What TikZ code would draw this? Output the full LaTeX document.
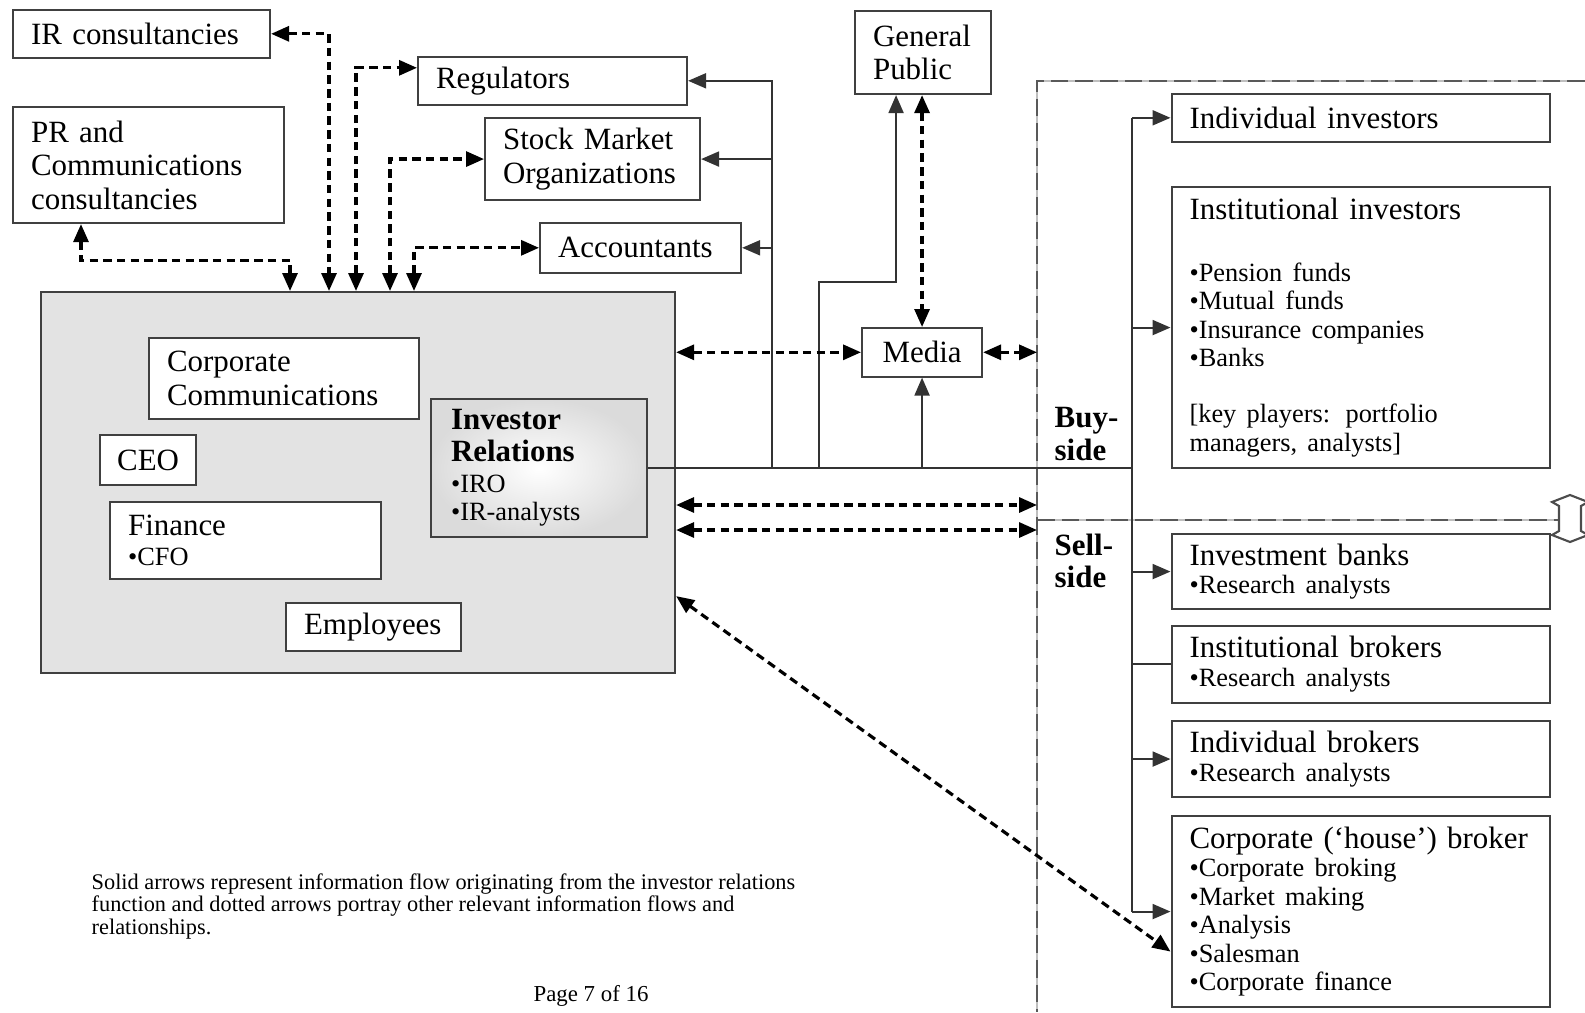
\documentclass[tikz,border=0pt]{standalone}
\usepackage{fontspec}
\setmainfont{Liberation Serif}
\usetikzlibrary{arrows.meta}
\newcommand{\listfont}{\fontsize{7.5}{8.1}\selectfont}

\begin{document}
\begin{tikzpicture}[
        >={Triangle[length=1.8mm, width=1.5mm]},
        box/.style={draw=black!75, line width=0.6pt, fill=white, anchor=north west,
            inner xsep=1.8mm, inner ysep=0pt, align=left, font=\fontsize{8.8}{9.5}\selectfont},
        flow/.style={black!80, line width=0.6pt},
        link/.style={black, line width=0.9pt, dash pattern=on 2.4pt off 1.5pt, <->},
        side/.style={black!25, line width=0.7pt, postaction={draw=black!65, dash pattern=on 5pt off 2pt}},
        sidelabel/.style={anchor=west, inner sep=0pt, align=left, font=\bfseries\fontsize{8.8}{9.2}\selectfont},
    ]
        \useasboundingbox (0,0) rectangle (15.85,10.12);

        % Outside parties
        \node[box, text width=2.21cm, minimum height=0.475cm] (ircons) at (0.12,10.03) {IR consultancies};
        \node[box, text width=2.35cm, minimum height=1.16cm] (prcons) at (0.12,9.06) {PR and\\Communications\\consultancies};
        \node[box, text width=2.33cm, minimum height=0.475cm] (reg) at (4.17,9.56) {Regulators};
        \node[box, text width=1.79cm, minimum height=0.82cm] (stock) at (4.84,8.95) {Stock Market\\Organizations};
        \node[box, text width=1.65cm, minimum height=0.495cm] (acct) at (5.39,7.90) {Accountants};
        \node[box, text width=1.0cm, minimum height=0.83cm] (public) at (8.54,10.02) {General\\Public};
        \node[box, align=center, text width=0.84cm, minimum height=0.485cm] (media) at (8.61,6.85) {Media};

        % Company
        \node[draw=black!75, line width=0.6pt, fill=black!11, anchor=north west, inner sep=0pt,
            minimum width=6.34cm, minimum height=3.81cm] (company) at (0.40,7.21) {};
        \node[box, text width=2.34cm, minimum height=0.81cm] (corpcomm) at (1.48,6.75) {Corporate\\Communications};
        \node[box, align=center, inner xsep=1.3mm, text width=0.70cm, minimum height=0.50cm] (ceo) at (0.99,5.78) {CEO};
        \node[box, text width=2.35cm, minimum height=0.77cm] (finance) at (1.09,5.11) {Finance\\[0.5pt]\listfont •CFO\par};
        \node[box, text width=1.39cm, minimum height=0.48cm] (staff) at (2.85,4.10) {Employees};
        \node[box, inner xsep=2mm, text width=1.76cm, minimum height=1.38cm, shading=radial,
            inner color=white, outer color=black!14] (ir) at (4.30,6.14)
            {\textbf{Investor}\\[-0.6pt]\textbf{Relations}\\[0.8pt]\listfont •IRO\\•IR-analysts\par};

        % Buy-side and sell-side
        \node[box, text width=3.42cm, minimum height=0.475cm] (indinv) at (11.705,9.19) {Individual investors};
        \node[box, text width=3.42cm, minimum height=2.81cm] (instinv) at (11.705,8.26)
            {Institutional investors\\[9.4pt]\listfont •Pension funds\\•Mutual funds\\•Insurance companies\\•Banks\\[7.9pt][key players: portfolio\\managers, analysts]\par};
        \node[box, text width=3.42cm, minimum height=0.75cm] (invbank) at (11.705,4.79) {Investment banks\\\listfont •Research analysts\par};
        \node[box, text width=3.42cm, minimum height=0.77cm] (instbrok) at (11.705,3.875) {Institutional brokers\\\listfont •Research analysts\par};
        \node[box, text width=3.42cm, minimum height=0.76cm] (indbrok) at (11.705,2.92) {Individual brokers\\\listfont •Research analysts\par};
        \node[box, text width=3.42cm, minimum height=1.91cm] (house) at (11.705,1.97)
            {\mbox{Corporate (‘house’) broker}\\\listfont •Corporate broking\\•Market making\\•Analysis\\•Salesman\\•Corporate finance\par};

        \node[sidelabel] (buylbl) at (10.54,5.78) {Buy-\\side};
        \node[sidelabel] (selllbl) at (10.54,4.51) {Sell-\\side};

        % Frame of the market
        \coordinate (framex) at (10.37,0);
        \coordinate (buy) at (10.37,5.07);
        \coordinate (sell) at (10.37,4.82);
        \draw[side] (15.85,9.31) -| (framex);
        \draw[side] (10.37,4.92) -- (15.59,4.92);
        \draw[black!70, line width=0.6pt, fill=white] (15.59,5.06) -- (15.52,5.10) -- (15.70,5.17) -- (15.88,5.10)
            -- (15.81,5.06) -- (15.81,4.81) -- (15.88,4.77) -- (15.70,4.70) -- (15.52,4.77) -- (15.59,4.81) -- cycle;

        % Solid flows from investor relations
        \coordinate (busx) at (11.32,0);
        \coordinate (upx) at (7.72,0);
        \coordinate (pubbend) at (8.19,7.30);
        \draw[flow] (ir.east) -- (ir.east -| busx);
        \draw[flow, ->] (ir.east -| upx) |- (reg.east);
        \draw[flow, ->] (upx |- stock.east) -- (stock.east);
        \draw[flow, ->] (upx |- acct.east) -- (acct.east);
        \draw[flow, ->] (ir.east -| pubbend) -- (pubbend) -| ([xshift=-2.7mm]public.south);
        \draw[flow, ->] (ir.east -| media.south) -- (media.south);
        \draw[flow] (busx |- indinv.west) -- (busx |- house.west);
        \foreach \target in {indinv, instinv, invbank, indbrok, house}
            \draw[flow, ->] (busx |- \target.west) -- (\target.west);
        \draw[flow] (busx |- instbrok.west) -- (instbrok.west);

        % Other relations (dotted)
        \draw[link] ([xshift=6.9mm]prcons.south west) -- ++(0,-0.36) -| ([xshift=25mm]company.north west);
        \draw[link] (ircons.east) -| ([xshift=28.9mm]company.north west);
        \draw[link] ([xshift=31.6mm]company.north west) |- ([yshift=1.3mm]reg.west);
        \draw[link] ([xshift=35mm]company.north west) |- (stock.west);
        \draw[link] ([xshift=37.4mm]company.north west) |- (acct.west);
        \draw[link] (media.north |- public.south) -- (media.north);
        \draw[link] (company.east |- media.west) -- (media.west);
        \draw[link] (media.east) -- (media.east -| framex);
        \draw[link] (company.east |- buy) -- (buy);
        \draw[link] (company.east |- sell) -- (sell);
        \draw[link] ([yshift=7.8mm]company.south east) -- ([yshift=-4mm]house.west);

        % Note
        \node[anchor=west, inner sep=0pt, align=left, font=\fontsize{6.35}{6.4}\selectfont] (note) at (0.91,1.055)
            {Solid arrows represent information flow originating from the investor relations\\function and dotted arrows portray other relevant information flows and\\relationships.};
        \node[font=\fontsize{6.5}{7}\selectfont] (page) at (5.91,0.16) {Page 7 of 16};
    \end{tikzpicture}
\end{document}
